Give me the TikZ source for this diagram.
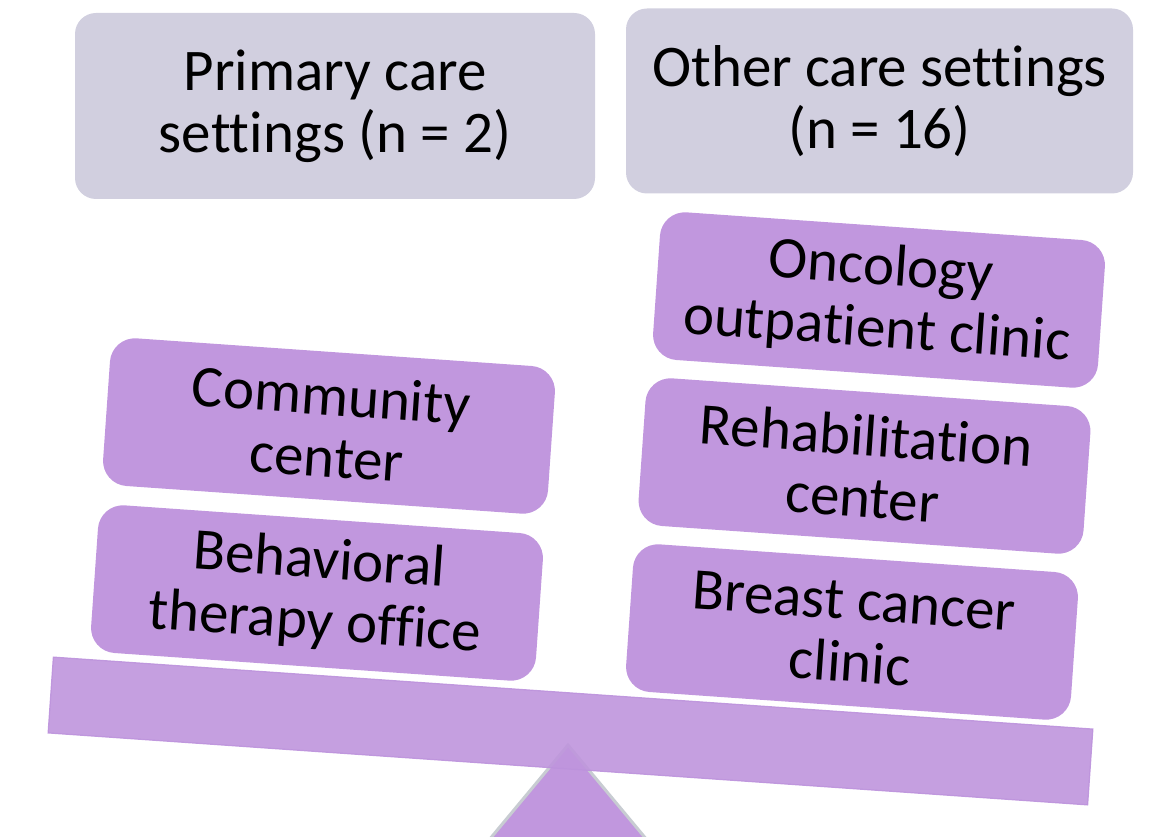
\documentclass[tikz,border=0pt]{standalone}
\usepackage{fontspec}
\setmainfont{Carlito}[RawFeature={-liga;-clig;-dlig;-rlig;-calt}]
\definecolor{grayfill}{HTML}{D1CFDF}
\definecolor{purp}{HTML}{C197DE}
\definecolor{beamfill}{HTML}{BF95DD}
\definecolor{beamline}{HTML}{BC92DC}
\definecolor{triline}{HTML}{C8CCD2}
\begin{document}
\begin{tikzpicture}[x=1pt,y=-1pt,
  txt/.style={align=center,font=\fontsize{59}{62}\selectfont,text=black,inner sep=0pt},
  graybox/.style={txt,rounded corners=21pt,fill=grayfill},
  purplebox/.style={txt,rounded corners=25pt,fill=purp,minimum width=446pt,minimum height=148pt,rotate=-4},
  beam/.style={draw=beamline,line width=1.2pt,fill=beamfill,fill opacity=0.9,draw opacity=0.9,minimum width=1042pt,minimum height=76pt,inner sep=0pt,rotate=-3.96},
  fulcrum/.style={fill=purp,draw=triline,line width=3pt}]
\useasboundingbox (0,0) rectangle (1149,837);
% header boxes
\node[graybox,minimum width=520pt,minimum height=186pt] (primary) at (335,106) {Primary care\\settings (n = 2)};
\node[graybox,minimum width=507pt,minimum height=185pt] (other) at (879.5,101) {Other care settings\\(n = 16)};
% fulcrum
\coordinate (apex) at (568,745);
\coordinate (bl) at (489,840);
\coordinate (br) at (647,840);
\draw[fulcrum] (bl) -- (apex) -- (br);
% beam
\node[beam] (beam) at (570.5,731) {};
% left side boxes
\node[purplebox] (community) at (329,426) {Community\\center};
\node[purplebox] (behavioral) at (317,593) {Behavioral\\therapy office};
% right side boxes
\node[purplebox] (oncology) at (879,300) {Oncology\\outpatient clinic};
\node[purplebox] (rehab) at (864.5,466) {Rehabilitation\\center};
\node[purplebox] (breast) at (852,632) {Breast cancer\\clinic};
\end{tikzpicture}
\end{document}
